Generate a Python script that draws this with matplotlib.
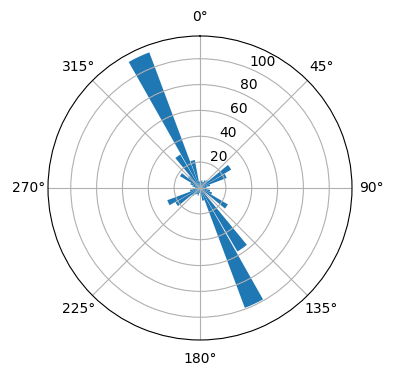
import numpy as np
import matplotlib
matplotlib.use('Agg')
import matplotlib.pyplot as plt

# direction bins (degrees, bin centres) and counts
directions = [5, 15, 25, 35, 45, 55, 65, 75, 85,
              95, 105, 115, 125, 135, 145, 155, 165, 175,
              185, 195, 205, 215, 225, 235, 245, 255, 265,
              275, 285, 295, 305, 315, 325, 335, 345, 355]
counts = [3, 6, 5, 7, 8, 28, 22, 8, 5,
          5, 8, 10, 25, 6, 57, 99, 10, 5,
          4, 6, 5, 6, 8, 22, 27, 8, 5,
          4, 6, 8, 18, 12, 30, 112, 22, 5]

theta = np.deg2rad(directions)
width = np.deg2rad(10) * 0.9

fig = plt.figure(figsize=(3.96, 3.80), dpi=100)
ax = fig.add_axes([0.1212, 0.1053, 0.7677, 0.8], projection='polar')
ax.set_theta_zero_location('N')
ax.set_theta_direction(-1)
ax.bar(theta, counts, width=width, color='#1f77b4')
ax.set_yticks([20, 40, 60, 80, 100])
ax.grid(True)

plt.savefig('out.png', dpi=100)
plt.close()
